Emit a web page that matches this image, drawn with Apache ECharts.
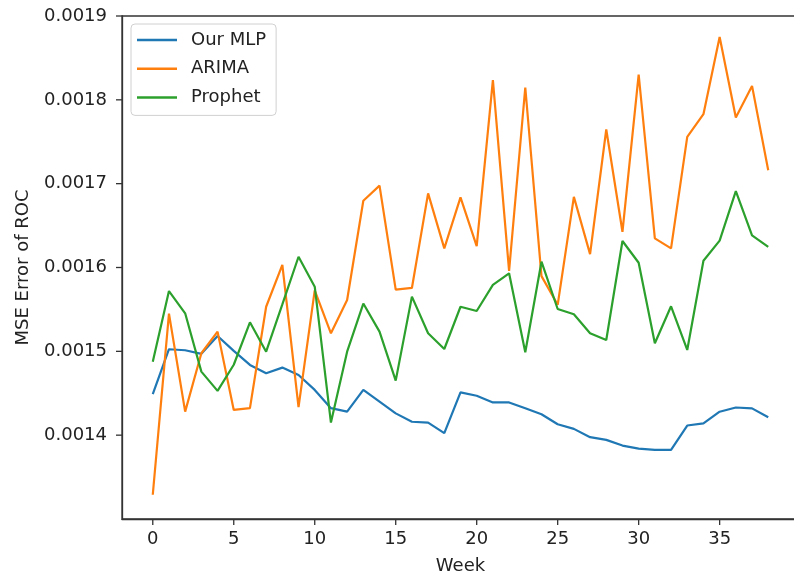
<!DOCTYPE html>
<html>
<head>
<meta charset="utf-8">
<script src="https://cdn.jsdelivr.net/npm/echarts@6/dist/echarts.min.js"></script>
<style>
  html, body { margin: 0; padding: 0; background: #fff; }
  #chart { width: 794px; height: 574px; }
</style>
</head>
<body>
<div id="chart"></div>
<script>
// weeks on the x axis
const weeks = [0, 1, 2, 3, 4, 5, 6, 7, 8, 9, 10, 11, 12, 13, 14, 15, 16, 17, 18, 19,
  20, 21, 22, 23, 24, 25, 26, 27, 28, 29, 30, 31, 32, 33, 34, 35, 36, 37, 38]

// MSE error of ROC
const mlp = [0.001449, 0.0015025, 0.0015013, 0.001497, 0.0015183, 0.0015005, 0.0014838, 0.0014739,
  0.0014806, 0.0014718, 0.001454, 0.0014322, 0.001428, 0.001454, 0.00144, 0.001426, 0.001416,
  0.001415, 0.0014024, 0.001451, 0.001447, 0.001439, 0.001439, 0.001432, 0.001425, 0.001413,
  0.0014075, 0.0013976, 0.0013944, 0.0013876, 0.001384, 0.0013825, 0.0013825, 0.0014115,
  0.001414, 0.001428, 0.001433, 0.001432, 0.0014214]
const arima = [0.0013289, 0.001545, 0.0014281, 0.0014977, 0.0015235, 0.0014301, 0.0014322, 0.0015532,
  0.0016032, 0.0014334, 0.0015728, 0.0015215, 0.0015612, 0.0016796, 0.0016977, 0.0015737,
  0.0015756, 0.0016884, 0.0016228, 0.0016836, 0.0016255, 0.0018234, 0.001596, 0.0018147,
  0.0015897, 0.0015555, 0.0016843, 0.001616, 0.0017646, 0.0016426, 0.0018302, 0.0016347,
  0.0016228, 0.0017558, 0.0017829, 0.001875, 0.0017789, 0.0018166, 0.0017161]
const prophet = [0.0014877, 0.0015719, 0.0015454, 0.0014758, 0.0014528, 0.001484, 0.0015346, 0.0014996,
  0.001556, 0.0016128, 0.0015771, 0.001415, 0.0014996, 0.001557, 0.0015235, 0.0014651,
  0.0015653, 0.0015215, 0.0015028, 0.0015532, 0.0015481, 0.0015792, 0.0015931, 0.0014989,
  0.0016069, 0.0015505, 0.0015443, 0.0015215, 0.0015135, 0.0016316, 0.0016057, 0.0015096,
  0.0015537, 0.0015016, 0.0016081, 0.001632, 0.0016911, 0.0016383, 0.0016247]

// tick positions
const xTicks = [0, 5, 10, 15, 20, 25, 30, 35]
const yTicks = [0.0014, 0.0015, 0.0016, 0.0017, 0.0018, 0.0019]

const names = ['Our MLP', 'ARIMA', 'Prophet']
const colors = ['#1f77b4', '#ff7f0e', '#2ca02c']

const X_MIN = -1.9
const X_MAX = 39.9
const Y_MIN = 0.0013
const Y_MAX = 0.0019

const font = 'DejaVu Sans'
const textColor = '#222'
const spineColor = '#333'

const chart = echarts.init(document.getElementById('chart'))

const pairs = (ys) => weeks.map((w, i) => [w, ys[i]])

// matplotlib style outward ticks, placed through the axes' own scales
const tickSeries = (data, vertical) => ({
  type: 'custom',
  silent: true,
  clip: false,
  z: 5,
  data: data,
  renderItem: (params, api) => {
    const p = api.coord([api.value(0), api.value(1)])
    const shape = vertical
      ? { x1: p[0], y1: p[1], x2: p[0], y2: p[1] + 6 }
      : { x1: p[0] - 6, y1: p[1], x2: p[0], y2: p[1] }
    return { type: 'line', shape: shape, style: { stroke: spineColor, lineWidth: 1.3 } }
  }
})

const option = {
  animation: false,
  grid: {
    left: 122,
    top: 16,
    width: 677,
    height: 503,
    outerBoundsMode: 'none',
    containLabel: false,
    show: true,
    borderColor: spineColor,
    borderWidth: 1.3,
    backgroundColor: 'transparent'
  },
  legend: {
    orient: 'vertical',
    left: 131,
    top: 24,
    data: names,
    icon: 'rect',
    itemWidth: 40,
    itemHeight: 2.5,
    itemGap: 8.7,
    padding: [6, 10, 8, 6],
    backgroundColor: 'rgba(255,255,255,0.8)',
    borderColor: '#d0d0d0',
    borderWidth: 1,
    borderRadius: 4,
    textStyle: {
      fontFamily: font,
      fontSize: 18,
      color: textColor,
      lineHeight: 20,
      padding: [0, 0, 0, 9]
    }
  },
  xAxis: {
    type: 'value',
    min: X_MIN,
    max: X_MAX,
    splitNumber: 8,
    name: 'Week',
    nameLocation: 'middle',
    nameGap: 38,
    nameTextStyle: { fontFamily: font, fontSize: 18, color: textColor },
    axisLine: { show: true, onZero: false, lineStyle: { color: spineColor, width: 1.3 } },
    splitLine: { show: false },
    axisTick: { show: false },
    axisLabel: {
      showMinLabel: false,
      showMaxLabel: false,
      margin: 11,
      fontFamily: font,
      fontSize: 18,
      color: textColor
    }
  },
  yAxis: {
    type: 'value',
    min: Y_MIN,
    max: Y_MAX,
    interval: 0.0001,
    name: 'MSE Error of ROC',
    nameLocation: 'middle',
    nameGap: 90,
    nameTextStyle: { fontFamily: font, fontSize: 18, color: textColor },
    axisLine: { show: true, onZero: false, lineStyle: { color: spineColor, width: 1.3 } },
    splitLine: { show: false },
    axisTick: { show: false },
    axisLabel: {
      showMinLabel: false,
      margin: 15,
      fontFamily: font,
      fontSize: 18,
      color: textColor,
      formatter: (v) => v.toFixed(4)
    }
  },
  series: [mlp, arima, prophet].map((ys, i) => ({
    name: names[i],
    type: 'line',
    data: pairs(ys),
    showSymbol: false,
    symbol: 'none',
    color: colors[i],
    lineStyle: { color: colors[i], width: 2.2 }
  })).concat([
    tickSeries(xTicks.map(v => [v, Y_MIN]), true),
    tickSeries(yTicks.map(v => [X_MIN, v]), false)
  ])
}

chart.setOption(option)
</script>
</body>
</html>
